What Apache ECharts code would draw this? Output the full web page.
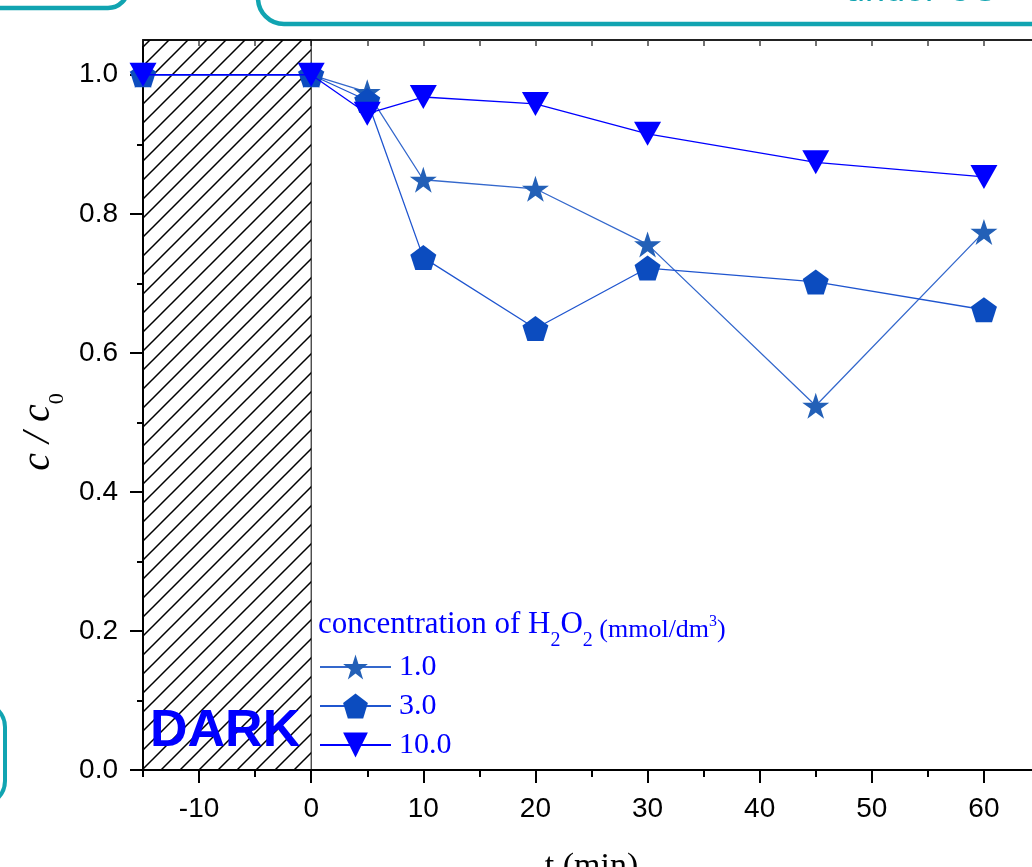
<!DOCTYPE html>
<html>
<head>
<meta charset="utf-8">
<script src="https://cdn.jsdelivr.net/npm/echarts@6/dist/echarts.min.js"></script>
<style>
html,body{margin:0;padding:0;background:#fff;}
#chart{width:1032px;height:867px;}
</style>
</head>
<body>
<div id="chart"></div>
<script>
// ---- data ----
const times = [-15, 0, 5, 10, 20, 30, 45, 60];
const c_1_0 = [1.0, 1.0, 0.975, 0.849, 0.836, 0.756, 0.524, 0.774];
const c_3_0 = [1.0, 1.0, 0.963, 0.737, 0.635, 0.722, 0.702, 0.662];
const c_10_0 = [1.0, 1.0, 0.944, 0.968, 0.958, 0.915, 0.874, 0.853];
const seriesNames = ['1.0', '3.0', '10.0'];
const xMajorTicks = [-10, 0, 10, 20, 30, 40, 50, 60];
const xMinorTicks = [-15, -5, 5, 15, 25, 35, 45, 55, 65];
const xTopTicks = [-15, -10, -5, 0, 5, 10, 15, 20, 25, 30, 35, 40, 45, 50, 55, 60, 65];
const yMajorTicks = [0, 0.2, 0.4, 0.6, 0.8, 1.0];
const yMinorTicks = [0.1, 0.3, 0.5, 0.7, 0.9];
const darkRange = [-15, 0];
const xRange = [-15, 65];
const yRange = [0, 1.05];

const teal = '#11A4B1';
const serif = '"Liberation Serif","Times New Roman",serif';
const sans = '"Liberation Sans",Arial,sans-serif';

// hatch pattern
const pc = document.createElement('canvas');
pc.width = 19; pc.height = 19;
const pctx = pc.getContext('2d');
pctx.strokeStyle = '#000';
pctx.lineWidth = 1.5;
pctx.beginPath();
pctx.moveTo(-2, 21); pctx.lineTo(21, -2);
pctx.moveTo(-2, 2); pctx.lineTo(2, -2);
pctx.moveTo(17, 21); pctx.lineTo(21, 17);
pctx.stroke();

const starPath = 'path://M50 0L61.23 34.55L97.55 34.55L68.16 55.9L79.39 90.45L50 69.1L20.61 90.45L31.84 55.9L2.45 34.55L38.77 34.55Z';
const pentPath = 'path://M50 0L97.55 34.55L79.39 90.45L20.61 90.45L2.45 34.55Z';

const pairs = arr => times.map((t, i) => [t, arr[i]]);

const chart = echarts.init(document.getElementById('chart'), null, {renderer: 'canvas'});
const option = {
  backgroundColor: '#fff',
  animation: false,
  grid: {left: 143, right: -8, top: 40, bottom: 97, outerBoundsMode: 'none', containLabel: false},
  xAxis: [
    {
      type: 'value', min: xRange[0], max: xRange[1], position: 'bottom',
      name: 't (min)', nameLocation: 'middle', nameGap: 80,
      nameTextStyle: {fontFamily: serif, fontSize: 34, color: '#000'},
      axisLine: {show: true, onZero: false, lineStyle: {color: '#000', width: 2}},
      axisTick: {show: true, length: 13, lineStyle: {color: '#000', width: 2}, customValues: xMajorTicks},
      axisLabel: {show: true, customValues: xMajorTicks, margin: 25, fontFamily: sans, fontSize: 28, color: '#000'},
      splitLine: {show: false}
    },
    {
      type: 'value', min: xRange[0], max: xRange[1], position: 'bottom',
      axisLine: {show: false, onZero: false},
      axisTick: {show: true, length: 7, lineStyle: {color: '#000', width: 2}, customValues: xMinorTicks},
      axisLabel: {show: false},
      splitLine: {show: false}
    },
    {
      type: 'value', min: xRange[0], max: xRange[1], position: 'top',
      axisLine: {show: true, onZero: false, lineStyle: {color: '#222', width: 2}},
      axisTick: {show: true, inside: true, length: 6, lineStyle: {color: '#444', width: 1.5}, customValues: xTopTicks},
      axisLabel: {show: false},
      splitLine: {show: false}
    }
  ],
  yAxis: [
    {
      type: 'value', min: yRange[0], max: yRange[1], position: 'left',
      name: '{i|c / c}{s|0}', nameLocation: 'middle', nameRotate: 90, nameGap: 70,
      nameTextStyle: {
        padding: [0, 54, 0, 0],
        rich: {
          i: {fontFamily: serif, fontStyle: 'italic', fontSize: 40, lineHeight: 44, verticalAlign: 'top', color: '#000'},
          s: {fontFamily: serif, fontSize: 22, lineHeight: 22, verticalAlign: 'top', padding: [28, 0, 0, 0], color: '#000'}
        }
      },
      axisLine: {show: true, onZero: false, lineStyle: {color: '#000', width: 2}},
      axisTick: {show: true, length: 13, lineStyle: {color: '#000', width: 2}, customValues: yMajorTicks},
      axisLabel: {show: true, customValues: yMajorTicks, margin: 25, fontFamily: sans, fontSize: 28, color: '#000',
        formatter: v => v.toFixed(1)},
      splitLine: {show: false}
    },
    {
      type: 'value', min: yRange[0], max: yRange[1], position: 'left', offset: 0,
      axisLine: {show: false, onZero: false},
      axisTick: {show: true, length: 6, lineStyle: {color: '#000', width: 2}, customValues: yMinorTicks},
      axisLabel: {show: false},
      splitLine: {show: false}
    }
  ],
  legend: {
    data: seriesNames,
    orient: 'vertical', left: 319, top: 652, padding: 0,
    itemWidth: 71, itemHeight: 31, itemGap: 9,
    textStyle: {fontFamily: serif, fontSize: 30, color: '#0000FF', padding: [0, 0, 0, 3]},
    selectedMode: false
  },
  series: [
    {
      name: seriesNames[0], type: 'line', xAxisIndex: 0, yAxisIndex: 0,
      data: pairs(c_1_0),
      symbol: starPath, symbolSize: [27, 26],
      itemStyle: {color: '#2360B7'},
      lineStyle: {color: '#3468CC', width: 1.3},
      z: 3,
      markArea: {
        silent: true,
        itemStyle: {color: {image: pc, repeat: 'repeat'}, borderColor: '#000', borderWidth: 1},
        label: {show: false},
        data: [[{xAxis: darkRange[0], yAxis: yRange[0]}, {xAxis: darkRange[1], yAxis: yRange[1]}]]
      }
    },
    {
      name: seriesNames[1], type: 'line', xAxisIndex: 0, yAxisIndex: 0,
      data: pairs(c_3_0),
      symbol: pentPath, symbolSize: [26, 25],
      itemStyle: {color: '#0C4CBF'},
      lineStyle: {color: '#1F55CF', width: 1.3},
      z: 4
    },
    {
      name: seriesNames[2], type: 'line', xAxisIndex: 0, yAxisIndex: 0,
      data: pairs(c_10_0),
      symbol: 'triangle', symbolRotate: 180, symbolSize: [27, 24],
      itemStyle: {color: '#0000FF'},
      lineStyle: {color: '#0000FF', width: 1.3},
      z: 5
    }
  ],
  graphic: [
    {type: 'rect', silent: true, shape: {x: -200, y: -100, width: 328, height: 108, r: 20},
      style: {fill: 'none', stroke: teal, lineWidth: 4.5}},
    {type: 'rect', silent: true, shape: {x: 258, y: -200, width: 900, height: 224, r: 26},
      style: {fill: 'none', stroke: teal, lineWidth: 4.5}},
    {type: 'rect', silent: true, shape: {x: -100, y: 703, width: 105, height: 102, r: 24},
      style: {fill: 'none', stroke: teal, lineWidth: 4}},
    {type: 'text', silent: true, x: 845, y: 9,
      style: {text: 'under US', font: '36px ' + sans, fill: teal, verticalAlign: 'bottom'}},
    {type: 'text', silent: true, left: 150, top: 706, z: 10,
      style: {text: 'DARK', font: 'bold 52px ' + sans, fill: '#0000FF'}},
    {type: 'text', silent: true, left: 318, top: 609, z: 10,
      style: {
        text: '{m|concentration of H}{s|2}{m|O}{s|2}{p| (mmol/dm}{u|3}{p|)}',
        rich: {
          m: {fontFamily: serif, fontSize: 31, lineHeight: 37, verticalAlign: 'top', fill: '#0000FF'},
          s: {fontFamily: serif, fontSize: 20, lineHeight: 20, verticalAlign: 'top', padding: [22, 0, 0, 0], fill: '#0000FF'},
          p: {fontFamily: serif, fontSize: 26, lineHeight: 26, verticalAlign: 'top', padding: [8, 0, 0, 0], fill: '#0000FF'},
          u: {fontFamily: serif, fontSize: 16, lineHeight: 16, verticalAlign: 'top', padding: [5, 0, 0, 0], fill: '#0000FF'}
        }
      }}
  ]
};
chart.setOption(option);
</script>
</body>
</html>
